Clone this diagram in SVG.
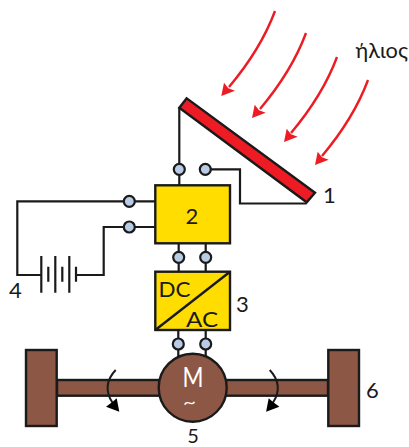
<svg xmlns="http://www.w3.org/2000/svg" width="409" height="447" viewBox="0 0 409 447">
<style>
.w{fill:none;stroke:#1a1a1a;stroke-width:2.2}
.t{fill:#b8cce6;stroke:#1a1a1a;stroke-width:2.2}
.b{stroke:#1a1a1a;stroke-width:2.4}
.y{fill:#ffdd00}
.br{fill:#8c5745;stroke:#1a1a1a;stroke-width:2.4}
.r{fill:none;stroke:#ed1c24;stroke-width:2.4}
.rh{fill:#ed1c24}
.k{fill:none;stroke:#1a1a1a;stroke-width:2}
text{font-family:"Lato","Liberation Sans",sans-serif;font-weight:400;font-size:22px;fill:#1a1a1a}
</style>
<g id="connectors">
<path class="w" d="M179.3 107.7V185M205.3 169.3H240V203.5H306.7"/>
<path class="w" d="M155 201.3H17.3V275H41"/>
<path class="w" d="M155 227H103.7V275H76"/>
<path class="w" d="M178.7 243V272M205.7 243V272M178.3 330V360M205.7 330V360"/>
</g>
<g id="sun-rays">
<path class="r" d="M275 11C265 38 250 62 229 87"/><path class="rh" d="M221.300 96L224 82.700L228.300 88.300L235 90.700Z"/>
<path class="r" d="M306 33C296 60 281 84 260 109"/><path class="rh" d="M252 118L254.700 104.700L259 110.300L265.700 112.700Z"/>
<path class="r" d="M337 57C327 84 312 108 291 133"/><path class="rh" d="M284 142L286.700 128.700L291 134.300L297.700 136.700Z"/>
<path class="r" d="M368 80C358 107 343 131 322 156"/><path class="rh" d="M315 165L317.700 151.700L322 157.300L328.700 159.700Z"/>
</g>
<g id="panel"><path class="b" style="fill:#ed1c24" d="M186.700 98.300L179.300 107.700L306.700 202.300L315 192.700Z"/></g>
<g id="controller"><rect class="b y" x="155.300" y="185.300" width="74.700" height="58"/><text x="192" y="224" text-anchor="middle">2</text></g>
<g id="converter"><rect class="b y" x="155.300" y="271.700" width="74.700" height="58.300"/><path class="b" d="M155.300 330L230 271.700"/><text x="158.500" y="297" textLength="32" lengthAdjust="spacingAndGlyphs">DC</text><text x="186" y="327" textLength="32" lengthAdjust="spacingAndGlyphs">AC</text></g>
<g id="terminals">
<circle class="t" cx="179.300" cy="169.300" r="5.500"/><circle class="t" cx="205.300" cy="169.300" r="5.500"/>
<circle class="t" cx="129.300" cy="201.300" r="5.500"/><circle class="t" cx="129.300" cy="227" r="5.500"/>
<circle class="t" cx="178.700" cy="257.300" r="5.500"/><circle class="t" cx="205.700" cy="257.300" r="5.500"/>
<circle class="t" cx="178.300" cy="344" r="5.500"/><circle class="t" cx="205.700" cy="344" r="5.500"/>
</g>
<g id="battery"><path class="w" d="M41.300 256V292.700M48.300 266.700V281.700M55.300 256V292.700M62.300 266.700V281.700M69.300 256V292.700M76 266.700V281.700"/></g>
<g id="drive">
<rect class="br" x="57" y="380" width="271" height="15.700"/>
<rect class="br" x="26" y="350" width="30.700" height="76"/>
<rect class="br" x="328.300" y="350" width="30.700" height="76"/>
<path class="k" d="M115.700 370C106 380 105 392 112.700 403"/><path fill="#000" d="M119.300 411.700L106 406.700L112.700 401.700L116.700 398.300Z"/>
<path class="k" d="M269.700 370C279.400 380 280.400 392 272.700 403"/><path fill="#000" d="M266.100 411.700L279.400 406.700L272.700 401.700L268.700 398.300Z"/>
</g>
<g id="motor"><circle class="br" cx="192.700" cy="387.700" r="34"/><text x="182.500" y="387" style="font-size:26px;fill:#fff" textLength="21" lengthAdjust="spacingAndGlyphs">M</text><text x="183" y="407.500" style="font-size:15px;fill:#fff" textLength="13" lengthAdjust="spacingAndGlyphs">~</text></g>
<g id="labels">
<text x="355.500" y="58" textLength="52.500" lengthAdjust="spacingAndGlyphs">ήλιος</text><text x="323" y="203">1</text><text x="236" y="311.700">3</text><text x="9" y="298">4</text><text x="193" y="442.600" text-anchor="middle" style="font-size:20px">5</text><text x="366" y="397.700">6</text>
</g>
</svg>
